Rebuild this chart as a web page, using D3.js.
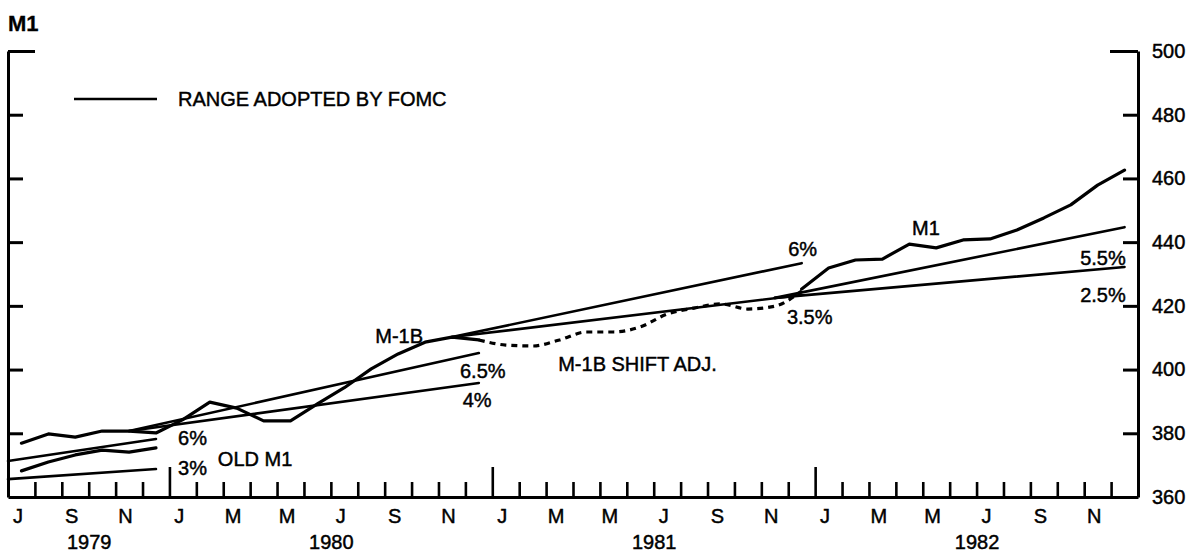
<!DOCTYPE html>
<html>
<head>
<meta charset="utf-8">
<script src="https://cdn.jsdelivr.net/npm/d3@7"></script>
<style>
  html, body { margin: 0; padding: 0; background: #fff; }
  svg { display: block; }
  text { font-family: "Liberation Sans", Arial, Helvetica, sans-serif; fill: #000; stroke: #000; stroke-width: 0.45px; }
</style>
</head>
<body>
<svg id="chart" width="1193" height="554"></svg>
<script>
// ---------- DATA (month index: 0 = July 1979; points plotted at mid-month) ----------
const monthLabels = ["J","S","N","J","M","M","J","S","N","J","M","M","J","S","N","J","M","M","J","S","N"];
const yearLabels = ["1979","1980","1981","1982"];
const yearSpans = [[0, 6], [6, 18], [18, 30], [30, 42]];
const yTicks = [360, 380, 400, 420, 440, 460, 480, 500];

// Old M1, Jul–Dec 1979
const oldM1Start = 0;
const oldM1Values = [368.2, 371.0, 373.2, 374.7, 374.1, 375.4];

// M-1B, Jul 1979 – Dec 1980
const m1bStart = 0;
const m1bValues = [376.9, 379.8, 378.8, 380.7, 380.7, 380.1,
                   384.3, 389.8, 387.9, 383.9, 383.9, 389.2,
                   394.3, 400.2, 404.9, 408.6, 410.2, 409.3];

// M-1B shift adjusted, Dec 1980 – Dec 1981 (dashed)
const shiftStart = 17;
const shiftValues = [409.3, 407.7, 407.4, 409.3, 411.8, 411.8, 413.4,
                     417.4, 419.3, 420.6, 419.0, 419.9, 424.7];

// M1, Dec 1981 – Dec 1982
const m1Start = 29;
const m1Values = [425.3, 431.9, 434.4, 434.7, 439.4, 438.2, 440.7,
                  441.0, 443.8, 447.6, 451.7, 457.9, 462.6];

// FOMC ranges: [start month, start value, end month, end value]
const range1979Upper = [0, 371.3, 5.5, 378.2];    // 6%
const range1979Lower = [0, 365.6, 5.5, 368.8];    // 3%
const range1980Upper = [4.5, 380.7, 17.5, 405.2]; // 6.5%
const range1980Lower = [4.5, 380.7, 17.5, 395.8]; // 4%
const range1981Upper = [16.5, 410.2, 29.5, 433.4]; // 6%
const range1981Lower = [16.5, 410.2, 29.5, 423.4]; // 3.5%
const range1982Upper = [28.5, 422.5, 41.5, 444.7]; // 5.5%
const range1982Lower = [28.5, 422.5, 41.5, 432.2]; // 2.5%

// Annotations: [text, month position, value position]
const annotations = [
  ["6%", 6.32, 378.5],
  ["3%", 6.32, 369.0],
  ["OLD M1", 7.8, 372.0],
  ["M-1B", 13.65, 410.6],
  ["6.5%", 16.8, 399.6],
  ["4%", 16.9, 390.4],
  ["M-1B SHIFT ADJ.", 20.45, 401.9],
  ["6%", 29.0, 437.7],
  ["3.5%", 28.95, 416.4],
  ["M1", 33.6, 444.4],
  ["5.5%", 39.85, 435.0],
  ["2.5%", 39.85, 423.3]
];

// ---------- CHART ----------
const svg = d3.select("#chart");
const x = d3.scaleLinear().domain([0, 42]).range([8, 1138]);
const y = d3.scaleLinear().domain([360, 500]).range([497, 51]);
const FS = 20;
const FF = "Liberation Sans, Arial, sans-serif";

const line = d3.line().x(d => x(d[0])).y(d => y(d[1]));
const toPts = (start, vals) => vals.map((v, i) => [start + i + 0.5, v]);
const seg = r => [[r[0], r[1]], [r[2], r[3]]];

// FOMC range lines
[range1979Upper, range1979Lower, range1980Upper, range1980Lower,
 range1981Upper, range1981Lower, range1982Upper, range1982Lower].forEach(r => {
  svg.append("path").attr("d", line(seg(r)))
    .attr("fill", "none").attr("stroke", "#000").attr("stroke-width", 2.6)
    .attr("stroke-linecap", "round");
});

// Data series
[[oldM1Start, oldM1Values], [m1bStart, m1bValues], [m1Start, m1Values]].forEach(([s, v]) => {
  svg.append("path").attr("d", line(toPts(s, v)))
    .attr("fill", "none").attr("stroke", "#000").attr("stroke-width", 3.2)
    .attr("stroke-linejoin", "round").attr("stroke-linecap", "round");
});
svg.append("path").attr("d", d3.line().x(d => x(d[0])).y(d => y(d[1])).curve(d3.curveMonotoneX)(toPts(shiftStart, shiftValues)))
  .attr("fill", "none").attr("stroke", "#000").attr("stroke-width", 3.2)
  .attr("stroke-dasharray", "6,5");

// Left axis (ticks inward, no labels)
const leftAxis = svg.append("g").attr("transform", `translate(${x(0)},0)`)
  .call(d3.axisRight(y).tickValues(yTicks.slice(1)).tickSize(15).tickSizeOuter(0).tickFormat(""));
leftAxis.select(".domain").attr("stroke-width", 3);
leftAxis.selectAll(".tick line").attr("stroke-width", 3)
  .filter(d => d === 500).attr("x2", 27);

// Right axis (ticks inward, labels outside)
const rightAxis = svg.append("g").attr("transform", `translate(${x(42)},0)`)
  .call(d3.axisRight(y).tickValues(yTicks).tickSizeInner(-15).tickSizeOuter(0).tickPadding(14));
rightAxis.select(".domain").attr("stroke-width", 3);
rightAxis.selectAll(".tick line").attr("stroke-width", 3)
  .filter(d => d === 500).attr("x2", -28);
rightAxis.selectAll(".tick line").filter(d => d === 360).remove();
rightAxis.selectAll("text").attr("font-size", FS).attr("font-family", FF).attr("text-anchor", "start");

// Bottom axis: month ticks pointing up
const bottomAxis = svg.append("g").attr("transform", `translate(0,${y(360)})`)
  .call(d3.axisBottom(x).tickValues(d3.range(1, 42)).tickSizeInner(-15).tickSizeOuter(0).tickFormat(""));
bottomAxis.select(".domain").attr("stroke-width", 3);
bottomAxis.selectAll(".tick line").attr("stroke-width", 2.6)
  .filter(d => d % 12 === 6).attr("y2", -30);

// Month labels
const monthAxis = svg.append("g").attr("transform", `translate(0,${y(360)})`)
  .call(d3.axisBottom(x).tickValues(monthLabels.map((_, i) => i * 2 + 0.35))
    .tickSize(0).tickPadding(12).tickFormat((d, i) => monthLabels[i]));
monthAxis.select(".domain").remove();
monthAxis.selectAll("text").attr("font-size", FS).attr("font-family", FF);

// Year labels
const yearAxis = svg.append("g").attr("transform", `translate(0,${y(360)})`)
  .call(d3.axisBottom(x).tickValues(yearSpans.map(s => (s[0] + s[1]) / 2))
    .tickSize(0).tickPadding(38).tickFormat((d, i) => yearLabels[i]));
yearAxis.select(".domain").remove();
yearAxis.selectAll("text").attr("font-size", FS).attr("font-family", FF);

// Title
svg.append("text").attr("x", 8).attr("y", 31).attr("font-size", 22).attr("font-weight", "bold")
  .style("stroke-width", "0.3px").text("M1");

// Legend
svg.append("line").attr("x1", 74).attr("x2", 157).attr("y1", 99).attr("y2", 99)
  .attr("stroke", "#000").attr("stroke-width", 2.6);
svg.append("text").attr("x", 178).attr("y", 99).attr("dy", "0.35em").attr("font-size", FS)
  .text("RANGE ADOPTED BY FOMC");

// Annotations
annotations.forEach(([t, m, v]) => {
  svg.append("text").attr("x", x(m)).attr("y", y(v)).attr("dy", "0.35em")
    .attr("font-size", FS).text(t);
});
</script>
</body>
</html>
